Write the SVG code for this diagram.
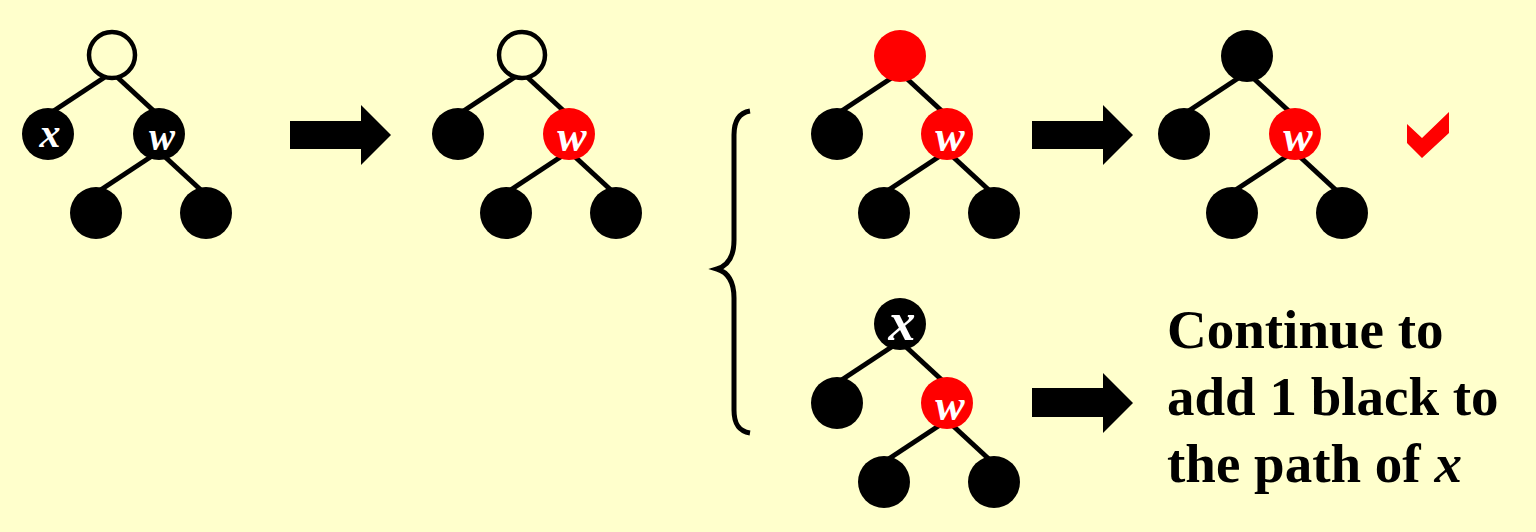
<svg xmlns="http://www.w3.org/2000/svg" width="1536" height="532" viewBox="0 0 1536 532">
<style>
.bg{fill:#FFFFCC}
.e{stroke:#000;stroke-width:5;fill:none}
.b{fill:#000}
.r{fill:#FF0000}
.o{fill:#FFFFCC;stroke:#000;stroke-width:4.5}
.lbl{font-family:"Liberation Serif","Times New Roman",serif;font-weight:bold;font-style:italic;font-size:44px;fill:#fff;text-anchor:middle}
.txt{font-family:"Liberation Serif","Times New Roman",serif;font-weight:bold;font-size:55px;fill:#000}
.arrow{fill:#000}
</style>
<defs>
<g id="edgeL"><line class="e" x1="-7" y1="22" x2="-60" y2="57"/></g>
<g id="edgeR"><line class="e" x1="4" y1="21" x2="44" y2="58"/></g>
</defs>
<rect class="bg" x="0" y="0" width="1536" height="532"/>

<g id="connectors">
  <!-- tree 1 -->
  <use href="#edgeL" x="112" y="55"/><use href="#edgeR" x="112" y="55"/>
  <use href="#edgeL" x="159" y="134"/><use href="#edgeR" x="159" y="134"/>
  <!-- tree 2 -->
  <use href="#edgeL" x="522" y="55"/><use href="#edgeR" x="522" y="55"/>
  <use href="#edgeL" x="569" y="134"/><use href="#edgeR" x="569" y="134"/>
  <!-- tree 3 -->
  <use href="#edgeL" x="900" y="55"/><use href="#edgeR" x="900" y="55"/>
  <use href="#edgeL" x="947" y="134"/><use href="#edgeR" x="947" y="134"/>
  <!-- tree 4 -->
  <use href="#edgeL" x="1247" y="55"/><use href="#edgeR" x="1247" y="55"/>
  <use href="#edgeL" x="1294" y="134"/><use href="#edgeR" x="1294" y="134"/>
  <!-- tree 5 -->
  <use href="#edgeL" x="900" y="324"/><use href="#edgeR" x="900" y="324"/>
  <use href="#edgeL" x="947" y="403"/><use href="#edgeR" x="947" y="403"/>
  <!-- arrows -->
  <polygon class="arrow" points="290,121 361,121 361,105 391,135 361,165 361,149 290,149"/>
  <polygon class="arrow" points="1032,121 1103,121 1103,105 1133,135 1103,165 1103,149 1032,149"/>
  <polygon class="arrow" points="1032,388 1103,388 1103,373 1133,403 1103,433 1103,417 1032,417"/>
  <!-- brace -->
  <path class="e" stroke-width="4.5" d="M750,111 C738,113 734,122 734,135 L734,240 C734,258 727,266 717,269 C727,272 734,280 734,298 L734,410 C734,423 738,431 750,433"/>
</g>

<!-- tree 1 -->
<g id="t1-root"><circle class="o" cx="112" cy="55" r="23"/></g>
<g id="t1-x"><circle class="b" cx="48" cy="134" r="26"/><text class="lbl" x="50" y="147" style="font-size:42px">x</text></g>
<g id="t1-w"><circle class="b" cx="159" cy="134" r="26"/><text class="lbl" x="162" y="150" style="font-size:39px">w</text></g>
<g id="t1-ll"><circle class="b" cx="96" cy="213" r="26"/></g>
<g id="t1-lr"><circle class="b" cx="206" cy="213" r="26"/></g>

<!-- tree 2 -->
<g id="t2-root"><circle class="o" cx="522" cy="55" r="23"/></g>
<g id="t2-l"><circle class="b" cx="458" cy="134" r="26"/></g>
<g id="t2-w"><circle class="r" cx="569" cy="134" r="26"/><text class="lbl" x="572" y="151">w</text></g>
<g id="t2-ll"><circle class="b" cx="506" cy="213" r="26"/></g>
<g id="t2-lr"><circle class="b" cx="616" cy="213" r="26"/></g>

<!-- tree 3 -->
<g id="t3-root"><circle class="r" cx="900" cy="56" r="26"/></g>
<g id="t3-l"><circle class="b" cx="837" cy="134" r="26"/></g>
<g id="t3-w"><circle class="r" cx="947" cy="134" r="26"/><text class="lbl" x="950" y="151">w</text></g>
<g id="t3-ll"><circle class="b" cx="884" cy="213" r="26"/></g>
<g id="t3-lr"><circle class="b" cx="994" cy="213" r="26"/></g>

<!-- tree 4 -->
<g id="t4-root"><circle class="b" cx="1247" cy="56" r="26"/></g>
<g id="t4-l"><circle class="b" cx="1184" cy="134" r="26"/></g>
<g id="t4-w"><circle class="r" cx="1295" cy="134" r="26"/><text class="lbl" x="1298" y="151">w</text></g>
<g id="t4-ll"><circle class="b" cx="1232" cy="213" r="26"/></g>
<g id="t4-lr"><circle class="b" cx="1342" cy="213" r="26"/></g>
<g id="check"><polygon class="r" points="1407,124 1422,138 1449,112 1449,133 1422,158 1407,143"/></g>

<!-- tree 5 -->
<g id="t5-x"><circle class="b" cx="900" cy="324" r="26"/><text class="lbl" x="902" y="340" style="font-size:54px">x</text></g>
<g id="t5-l"><circle class="b" cx="837" cy="403" r="26"/></g>
<g id="t5-w"><circle class="r" cx="947" cy="403" r="26"/><text class="lbl" x="950" y="420">w</text></g>
<g id="t5-ll"><circle class="b" cx="884" cy="482" r="26"/></g>
<g id="t5-lr"><circle class="b" cx="994" cy="482" r="26"/></g>

<g id="caption">
  <text class="txt" x="1167" y="348">Continue to</text>
  <text class="txt" x="1167" y="415">add 1 black to</text>
  <text class="txt" x="1167" y="482">the path of <tspan font-style="italic">x</tspan></text>
</g>
</svg>
